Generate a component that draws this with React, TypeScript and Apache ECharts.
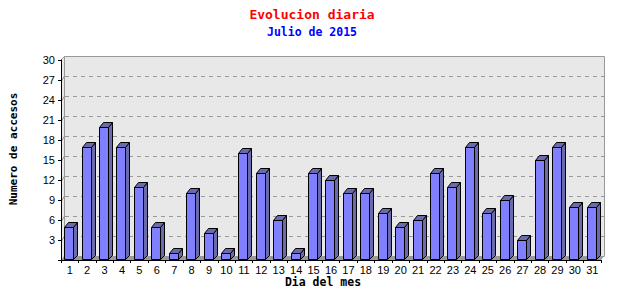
import React, { useEffect, useRef } from "react";
import * as echarts from "echarts";

const days = Array.from({ length: 31 }, (_, i) => String(i + 1));
const visits = [5, 17, 20, 17, 11, 5, 1, 10, 4, 1, 16, 13, 6, 1, 13, 12, 10, 10, 7, 5, 6, 13, 11, 17, 7, 9, 3, 15, 17, 8, 8];
const gridValues = [3, 6, 9, 12, 15, 18, 21, 24, 27];
const yMin = 0;
const yMax = 30;
const yStep = 3;

const titleText = "Evolucion diaria";
const subtitleText = "Julio de 2015";
const yName = "Numero de accesos";
const xName = "Dia del mes";

const DX = 3;
const DY = -4;
const BDX = 4;
const BDY = -5;

export default function App() {
  const ref = useRef<HTMLDivElement>(null);
  useEffect(() => {
    if (!ref.current) return;
    const chart = echarts.init(ref.current, null, { renderer: "svg" });
    const mono = "DejaVu Sans Mono";
    const option: any = {
      animation: false,
      backgroundColor: "#ffffff",
      grid: { left: 61, top: 60, width: 540, height: 200 },
      graphic: [
        {
          type: "text",
          x: 312,
          y: 14,
          style: { text: titleText, fill: "#ff0000", font: `bold 13px "${mono}"`, align: "center", verticalAlign: "middle" },
        },
        {
          type: "text",
          x: 312,
          y: 32,
          style: { text: subtitleText, fill: "#0000ff", font: `bold 11.5px "${mono}"`, align: "center", verticalAlign: "middle" },
        },
        {
          type: "text",
          x: 13,
          y: 149,
          rotation: Math.PI / 2,
          style: { text: yName, fill: "#000000", font: `bold 11px "${mono}"`, align: "center", verticalAlign: "middle" },
        },
        {
          type: "text",
          x: 323,
          y: 282,
          style: { text: xName, fill: "#000000", font: `bold 11.5px "${mono}"`, align: "center", verticalAlign: "middle" },
        },
      ],
      xAxis: {
        type: "category",
        data: days,
        boundaryGap: true,
        z: 5,
        axisLine: { show: true, lineStyle: { color: "#000", width: 1 } },
        axisTick: { show: true, length: 3, interval: 0, lineStyle: { color: "#000" } },
        axisLabel: { interval: 0, margin: 4, color: "#000", fontFamily: "Liberation Sans", fontSize: 11 },
        splitLine: { show: false },
      },
      yAxis: {
        type: "value",
        min: yMin,
        max: yMax,
        interval: yStep,
        z: 5,
        axisLine: { show: true, lineStyle: { color: "#000", width: 1 } },
        axisTick: { show: true, length: 3, lineStyle: { color: "#000" } },
        axisLabel: {
          margin: 6,
          color: "#000",
          fontFamily: "Liberation Sans",
          fontSize: 11,
          formatter: (v: number) => (v === 0 ? "" : String(v)),
        },
        splitLine: { show: false },
      },
      series: [
        {
          type: "custom",
          z: 1,
          silent: true,
          data: [[0, 0]],
          renderItem: (params: any, api: any) => {
            const cs = params.coordSys;
            const x = cs.x;
            const y = cs.y;
            const w = cs.width;
            const h = cs.height;
            const children: any[] = [];
            children.push({
              type: "polygon",
              shape: { points: [[x, y + h], [x, y], [x + DX, y + DY], [x + DX, y + h + DY]] },
              style: { fill: "#e8e8e8", stroke: null },
            });
            children.push({
              type: "rect",
              shape: { x: x + DX + 0.5, y: y + DY + 0.5, width: w, height: h },
              style: { fill: "#e8e8e8", stroke: "#999999", lineWidth: 1 },
            });
            children.push({
              type: "line",
              shape: { x1: x, y1: y, x2: x + DX + 0.5, y2: y + DY + 0.5 },
              style: { stroke: "#999999", lineWidth: 1 },
            });
            gridValues.forEach((v) => {
              const py = Math.round(api.coord([0, v])[1]) + 0.5;
              children.push({
                type: "line",
                shape: { x1: x + 1, y1: py, x2: x + DX, y2: py + DY },
                style: { stroke: "#999999", lineWidth: 1 },
              });
              children.push({
                type: "line",
                shape: { x1: x + DX + 1, y1: py + DY, x2: x + w + DX, y2: py + DY },
                style: { stroke: "#999999", lineWidth: 1, lineDash: [4, 4] },
              });
            });
            children.push({
              type: "polygon",
              shape: { points: [[x, y + h], [x + w, y + h], [x + w + DX, y + h + DY], [x + DX, y + h + DY]] },
              style: { fill: "#999999", stroke: null },
            });
            return { type: "group", children };
          },
        },
        {
          type: "custom",
          z: 2,
          data: visits.map((v, i) => [i, v]),
          renderItem: (params: any, api: any) => {
            const idx = api.value(0);
            const val = api.value(1);
            const top = api.coord([idx, val]);
            const base = api.coord([idx, 0]);
            const x0 = Math.round(top[0] - 1 - 4.5) + 0.5;
            const x1 = x0 + 9;
            const yt = Math.round(top[1]) + 0.5;
            const yb = Math.round(base[1]) - 0.5;
            const stroke = { stroke: "#000000", lineWidth: 1, lineJoin: "miter" };
            return {
              type: "group",
              children: [
                {
                  type: "polygon",
                  shape: { points: [[x1, yt], [x1 + BDX, yt + BDY], [x1 + BDX, yb + DY], [x1, yb]] },
                  style: { fill: "#6b6bab", ...stroke },
                },
                {
                  type: "polygon",
                  shape: { points: [[x0, yt], [x0 + BDX, yt + BDY], [x1 + BDX, yt + BDY], [x1, yt]] },
                  style: { fill: "#6b6bab", ...stroke },
                },
                {
                  type: "rect",
                  shape: { x: x0, y: yt, width: x1 - x0, height: yb - yt },
                  style: { fill: "#8080ff", ...stroke },
                },
              ],
            };
          },
        },
      ],
    };
    chart.setOption(option);
    return () => chart.dispose();
  }, []);
  return <div ref={ref} style={{ width: 640, height: 300, margin: -8 }} />;
}
